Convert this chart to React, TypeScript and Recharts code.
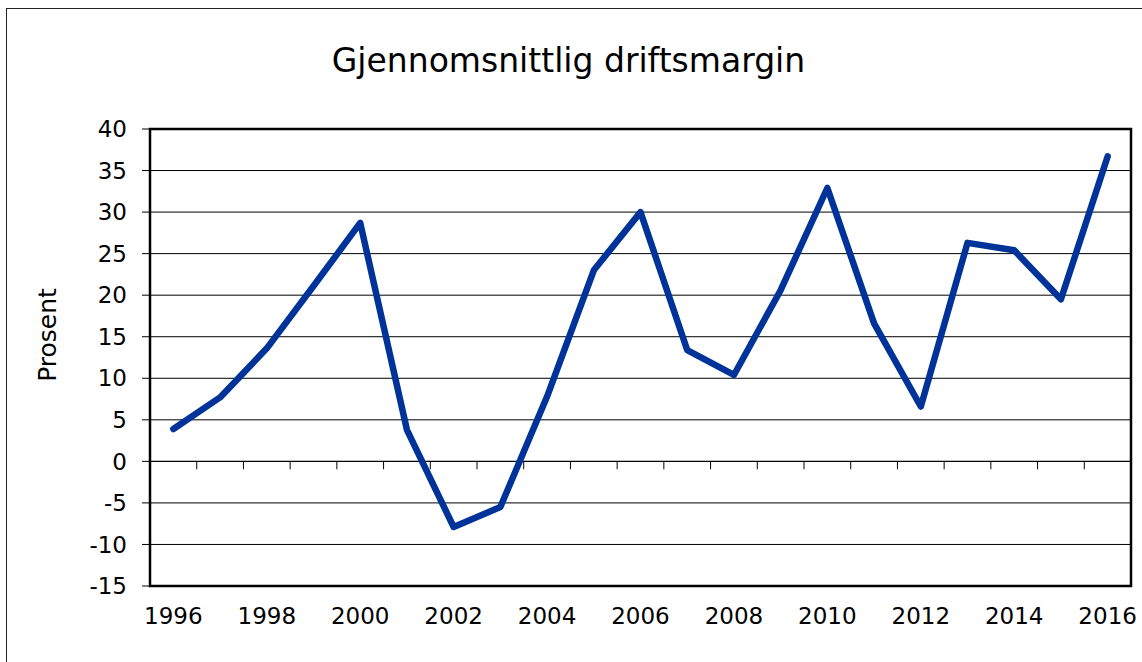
import React from 'react';
import { LineChart, Line, XAxis, YAxis, CartesianGrid, ReferenceLine, ReferenceArea } from 'recharts';

const years = [1996, 1997, 1998, 1999, 2000, 2001, 2002, 2003, 2004, 2005, 2006, 2007, 2008, 2009, 2010, 2011, 2012, 2013, 2014, 2015, 2016];
const margins = [3.9, 7.7, 13.6, 21.1, 28.7, 3.8, -7.9, -5.5, 7.8, 23.0, 30.0, 13.4, 10.4, 20.6, 32.9, 16.6, 6.6, 26.3, 25.4, 19.5, 36.7];
const yearTicks = [1996, 1998, 2000, 2002, 2004, 2006, 2008, 2010, 2012, 2014, 2016];
const valueTicks = [-15, -10, -5, 0, 5, 10, 15, 20, 25, 30, 35, 40];
const title = 'Gjennomsnittlig driftsmargin';
const yLabel = 'Prosent';

const data = years.map((year, i) => ({ year, value: margins[i] }));
const boundaries = years.slice(1).map((y) => y - 0.5);
const xDomain = [years[0] - 0.5, years[years.length - 1] + 0.5];
const yDomain = [valueTicks[0], valueTicks[valueTicks.length - 1]];

const FONT = '"DejaVu Sans", Verdana, sans-serif';

export default function App() {
  return (
    <div>
      <div
        style={{
          position: 'fixed',
          left: 6,
          top: 8,
          width: 1300,
          height: 800,
          border: '1px solid #222',
          boxSizing: 'border-box',
          background: '#fff',
        }}
      />
      <div style={{ position: 'fixed', left: 0, top: 0, width: 1142, height: 662 }}>
        <LineChart
          width={1142}
          height={662}
          data={data}
          margin={{ top: 129, right: 11, bottom: 36, left: 0 }}
        >
          <CartesianGrid vertical={false} stroke="#000" strokeWidth={1} />
          <XAxis
            dataKey="year"
            type="number"
            domain={xDomain}
            ticks={yearTicks}
            interval={0}
            axisLine={false}
            tickLine={false}
            tickSize={0}
            tickMargin={22}
            height={40}
            tick={{ fontSize: 23, fill: '#000', fontFamily: FONT }}
          />
          <YAxis
            type="number"
            domain={yDomain}
            ticks={valueTicks}
            interval={0}
            width={150}
            axisLine={false}
            tickLine={{ stroke: '#000', strokeWidth: 1 }}
            tickSize={8}
            tickMargin={15}
            tick={{ fontSize: 23, fill: '#000', fontFamily: FONT }}
          />
          <ReferenceLine y={0} stroke="#000" strokeWidth={1} />
          {boundaries.map((b) => (
            <ReferenceLine
              key={b}
              segment={[
                { x: b, y: 0 },
                { x: b, y: -0.95 },
              ]}
              stroke="#000"
              strokeWidth={1}
            />
          ))}
          <Line
            type="linear"
            dataKey="value"
            stroke="#003399"
            strokeWidth={6.5}
            dot={false}
            activeDot={false}
            strokeLinecap="round"
            strokeLinejoin="round"
            isAnimationActive={false}
          />
          <ReferenceArea
            x1={xDomain[0]}
            x2={xDomain[1]}
            y1={yDomain[0]}
            y2={yDomain[1]}
            fill="none"
            fillOpacity={0}
            stroke="#000"
            strokeWidth={2.5}
            ifOverflow="visible"
          />
        </LineChart>
      </div>
      <svg
        width={1142}
        height={662}
        style={{ position: 'fixed', left: 0, top: 0, pointerEvents: 'none' }}
      >
        <text
          x={568.5}
          y={72}
          textAnchor="middle"
          fontSize={33}
          fontFamily={FONT}
          fill="#000"
        >
          {title}
        </text>
        <text
          x={56}
          y={335}
          textAnchor="middle"
          fontSize={25}
          fontFamily={FONT}
          fill="#000"
          transform="rotate(-90 56 335)"
        >
          {yLabel}
        </text>
      </svg>
    </div>
  );
}
